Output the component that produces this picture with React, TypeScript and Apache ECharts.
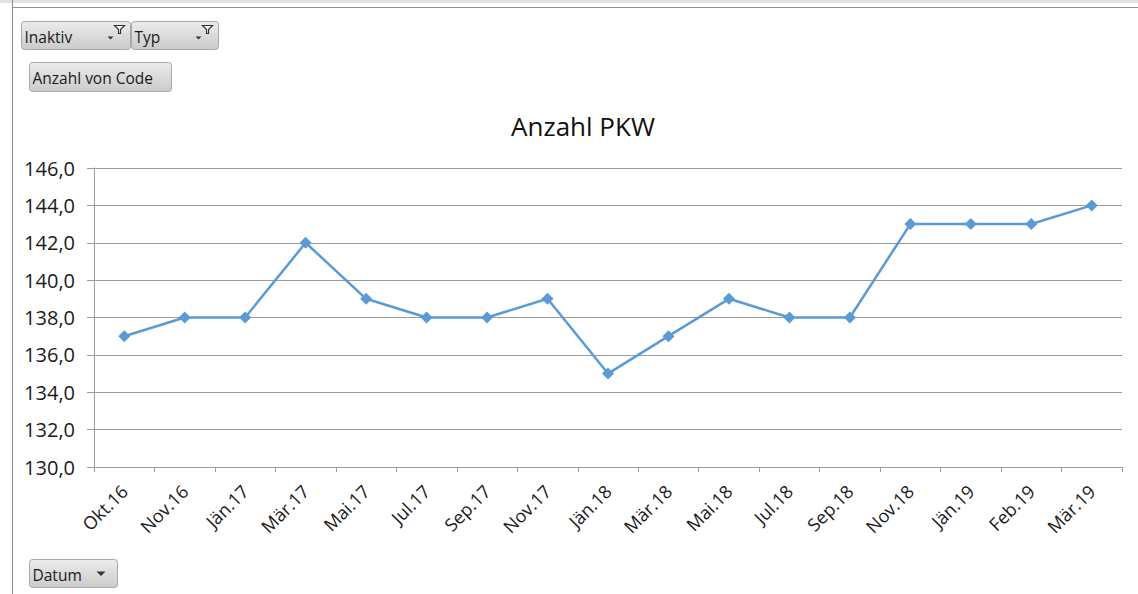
import React, { useEffect, useRef } from "react";
import * as echarts from "echarts";

const categories = [
  "Okt.16", "Nov.16", "Jän.17", "Mär.17", "Mai.17", "Jul.17", "Sep.17", "Nov.17",
  "Jän.18", "Mär.18", "Mai.18", "Jul.18", "Sep.18", "Nov.18", "Jän.19", "Feb.19", "Mär.19",
];
const values = [137, 138, 138, 142, 139, 138, 138, 139, 135, 137, 139, 138, 138, 143, 143, 143, 144];
const chartTitle = "Anzahl PKW";
const yMin = 130;
const yMax = 146;
const yStep = 2;

const btnGrad = () =>
  new echarts.graphic.LinearGradient(0, 0, 0, 1, [
    { offset: 0, color: "#ececec" },
    { offset: 1, color: "#cbcbcb" },
  ]);

function button(x: number, y: number, w: number, h: number, label: string, opts: { filter?: boolean; arrow?: boolean }) {
  const children: any[] = [
    {
      type: "rect",
      shape: { x: 0, y: 0, width: w, height: h, r: 3 },
      style: { fill: btnGrad(), stroke: "#a9a9a9", lineWidth: 1 },
    },
    {
      type: "text",
      x: 3,
      y: h / 2 + 1,
      style: { text: label, fill: "#1a1a1a", font: "15.5px 'Open Sans', sans-serif", verticalAlign: "middle" },
    },
  ];
  if (opts.filter) {
    children.push({
      type: "polygon",
      shape: { points: [[w - 16, 4], [w - 6, 4], [w - 10, 8], [w - 10, 12], [w - 12, 12], [w - 12, 8]] },
      style: { fill: "#fff", stroke: "#333", lineWidth: 1.2 },
    });
    children.push({
      type: "polygon",
      shape: { points: [[w - 23, 15], [w - 17, 15], [w - 20, 18]] },
      style: { fill: "#333" },
    });
  }
  if (opts.arrow) {
    children.push({
      type: "polygon",
      shape: { points: [[w - 21, h / 2 - 2], [w - 12, h / 2 - 2], [w - 16.5, h / 2 + 2.5]] },
      style: { fill: "#333" },
    });
  }
  return { type: "group", x, y, children };
}

export default function App() {
  const ref = useRef<HTMLDivElement>(null);
  useEffect(() => {
    if (!ref.current) return;
    const chart = echarts.init(ref.current, undefined, { renderer: "svg" });
    chart.setOption({
      animation: false,
      backgroundColor: "#ffffff",
      title: {
        text: chartTitle,
        left: 578,
        textAlign: "center",
        top: 108,
        textStyle: { fontFamily: "'Open Sans', sans-serif", fontWeight: "normal", fontSize: 26, color: "#111" },
      },
      grid: { left: 94, right: 16, top: 168, bottom: 127, containLabel: false },
      xAxis: {
        type: "category",
        data: categories,
        boundaryGap: true,
        axisLine: { show: true, lineStyle: { color: "#9a9a9a", width: 1 } },
        axisTick: { show: true, alignWithLabel: false, length: 5, lineStyle: { color: "#9a9a9a" } },
        axisLabel: {
          rotate: 45,
          interval: 0,
          margin: 21,
          fontFamily: "'Open Sans', sans-serif",
          fontSize: 18,
          color: "#1a1a1a",
        },
        splitLine: { show: false },
      },
      yAxis: {
        type: "value",
        min: yMin,
        max: yMax,
        interval: yStep,
        axisLine: { show: true, lineStyle: { color: "#9a9a9a", width: 1 } },
        axisTick: { show: true, length: 7, lineStyle: { color: "#9a9a9a" } },
        axisLabel: {
          margin: 19,
          fontFamily: "'Open Sans', sans-serif",
          fontSize: 20,
          color: "#1a1a1a",
          formatter: (v: number) => v.toFixed(1).replace(".", ","),
        },
        splitLine: { show: true, lineStyle: { color: "#9a9a9a", width: 1 } },
      },
      series: [
        {
          type: "line",
          data: values,
          symbol: "diamond",
          symbolSize: 12,
          lineStyle: { color: "#5b9bd5", width: 2.5 },
          itemStyle: { color: "#5b9bd5" },
        },
      ],
      graphic: [
        { type: "rect", shape: { x: 0, y: 0, width: 1138, height: 3 }, style: { fill: "#e0e0e0" } },
        { type: "line", shape: { x1: 12, y1: 7.5, x2: 1138, y2: 7.5 }, style: { stroke: "#8f8f8f", lineWidth: 1 } },
        { type: "line", shape: { x1: 12.5, y1: 0, x2: 12.5, y2: 594 }, style: { stroke: "#8f8f8f", lineWidth: 1 } },
        button(21.5, 21.5, 109, 28, "Inaktiv", { filter: true }),
        button(131.5, 21.5, 87, 28, "Typ", { filter: true }),
        button(29.5, 62.5, 142, 29, "Anzahl von Code", {}),
        button(29.5, 559.5, 88, 28, "Datum", { arrow: true }),
      ],
    });
    return () => chart.dispose();
  }, []);
  return <div ref={ref} style={{ position: "fixed", left: 0, top: 0, width: 1138, height: 594 }} />;
}
